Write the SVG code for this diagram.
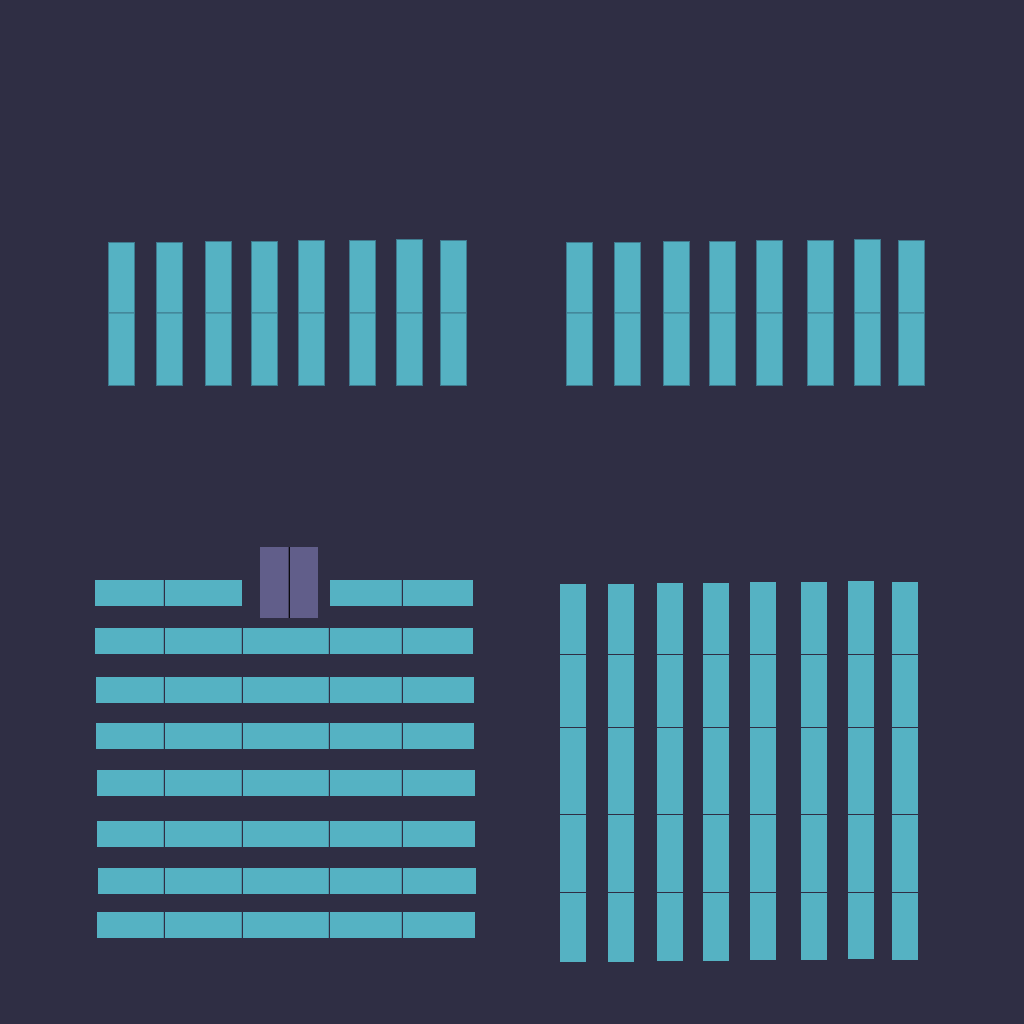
<svg xmlns="http://www.w3.org/2000/svg" width="1024" height="1024" viewBox="0 0 1024 1024">
<style>
.bg{fill:#2f2e44}
.b{fill:#55b2c3;stroke:#3f7a8e;stroke-width:1}
.c{fill:#55b2c3}
.d{stroke:#2f2e44;stroke-width:1.2}
.p{fill:#615e8a}
.pd{stroke:#000000;stroke-width:1.2}
</style>
<rect class="bg" x="0" y="0" width="1024" height="1024"/>
<g id="top-left">
<rect class="b" x="108.5" y="242.5" width="26" height="70.5"/><rect class="b" x="108.5" y="313" width="26" height="72.5"/>
<rect class="b" x="156.5" y="242.5" width="26" height="70.5"/><rect class="b" x="156.5" y="313" width="26" height="72.5"/>
<rect class="b" x="205.5" y="241.5" width="26" height="71.5"/><rect class="b" x="205.5" y="313" width="26" height="72.5"/>
<rect class="b" x="251.5" y="241.5" width="26" height="71.5"/><rect class="b" x="251.5" y="313" width="26" height="72.5"/>
<rect class="b" x="298.5" y="240.5" width="26" height="72.5"/><rect class="b" x="298.5" y="313" width="26" height="72.5"/>
<rect class="b" x="349.5" y="240.5" width="26" height="72.5"/><rect class="b" x="349.5" y="313" width="26" height="72.5"/>
<rect class="b" x="396.5" y="239.5" width="26" height="73.5"/><rect class="b" x="396.5" y="313" width="26" height="72.5"/>
<rect class="b" x="440.5" y="240.5" width="26" height="72.5"/><rect class="b" x="440.5" y="313" width="26" height="72.5"/>
</g>
<g id="top-right">
<rect class="b" x="566.5" y="242.5" width="26" height="70.5"/><rect class="b" x="566.5" y="313" width="26" height="72.5"/>
<rect class="b" x="614.5" y="242.5" width="26" height="70.5"/><rect class="b" x="614.5" y="313" width="26" height="72.5"/>
<rect class="b" x="663.5" y="241.5" width="26" height="71.5"/><rect class="b" x="663.5" y="313" width="26" height="72.5"/>
<rect class="b" x="709.5" y="241.5" width="26" height="71.5"/><rect class="b" x="709.5" y="313" width="26" height="72.5"/>
<rect class="b" x="756.5" y="240.5" width="26" height="72.5"/><rect class="b" x="756.5" y="313" width="26" height="72.5"/>
<rect class="b" x="807.5" y="240.5" width="26" height="72.5"/><rect class="b" x="807.5" y="313" width="26" height="72.5"/>
<rect class="b" x="854.5" y="239.5" width="26" height="73.5"/><rect class="b" x="854.5" y="313" width="26" height="72.5"/>
<rect class="b" x="898.5" y="240.5" width="26" height="72.5"/><rect class="b" x="898.5" y="313" width="26" height="72.5"/>
</g>
<g id="bottom-left">
<rect class="p" x="260" y="547" width="58" height="71"/>
<line class="pd" x1="289.3" y1="547" x2="289.3" y2="618"/>
<rect class="c" x="95" y="580" width="147" height="26"/>
<rect class="c" x="330" y="580" width="143" height="26"/>
<line class="d" x1="164.4" y1="580" x2="164.4" y2="606"/>
<line class="d" x1="402.4" y1="580" x2="402.4" y2="606"/>
<rect class="c" x="95" y="628" width="378" height="26"/>
<rect class="c" x="96" y="677" width="378" height="26"/>
<rect class="c" x="96" y="723" width="378" height="26"/>
<rect class="c" x="97" y="770" width="378" height="26"/>
<rect class="c" x="97" y="821" width="378" height="26"/>
<rect class="c" x="98" y="868" width="378" height="26"/>
<rect class="c" x="97" y="912" width="378" height="26"/>
<g class="d">
<line x1="164.4" y1="628" x2="164.4" y2="654"/><line x1="242.4" y1="628" x2="242.4" y2="654"/><line x1="329.4" y1="628" x2="329.4" y2="654"/><line x1="402.4" y1="628" x2="402.4" y2="654"/>
<line x1="164.4" y1="677" x2="164.4" y2="703"/><line x1="242.4" y1="677" x2="242.4" y2="703"/><line x1="329.4" y1="677" x2="329.4" y2="703"/><line x1="402.4" y1="677" x2="402.4" y2="703"/>
<line x1="164.4" y1="723" x2="164.4" y2="749"/><line x1="242.4" y1="723" x2="242.4" y2="749"/><line x1="329.4" y1="723" x2="329.4" y2="749"/><line x1="402.4" y1="723" x2="402.4" y2="749"/>
<line x1="164.4" y1="770" x2="164.4" y2="796"/><line x1="242.4" y1="770" x2="242.4" y2="796"/><line x1="329.4" y1="770" x2="329.4" y2="796"/><line x1="402.4" y1="770" x2="402.4" y2="796"/>
<line x1="164.4" y1="821" x2="164.4" y2="847"/><line x1="242.4" y1="821" x2="242.4" y2="847"/><line x1="329.4" y1="821" x2="329.4" y2="847"/><line x1="402.4" y1="821" x2="402.4" y2="847"/>
<line x1="164.4" y1="868" x2="164.4" y2="894"/><line x1="242.4" y1="868" x2="242.4" y2="894"/><line x1="329.4" y1="868" x2="329.4" y2="894"/><line x1="402.4" y1="868" x2="402.4" y2="894"/>
<line x1="164.4" y1="912" x2="164.4" y2="938"/><line x1="242.4" y1="912" x2="242.4" y2="938"/><line x1="329.4" y1="912" x2="329.4" y2="938"/><line x1="402.4" y1="912" x2="402.4" y2="938"/>
</g>
</g>
<g id="bottom-right">
<rect class="c" x="560" y="584" width="26" height="378"/>
<rect class="c" x="608" y="584" width="26" height="378"/>
<rect class="c" x="657" y="583" width="26" height="378"/>
<rect class="c" x="703" y="583" width="26" height="378"/>
<rect class="c" x="750" y="582" width="26" height="378"/>
<rect class="c" x="801" y="582" width="26" height="378"/>
<rect class="c" x="848" y="581" width="26" height="378"/>
<rect class="c" x="892" y="582" width="26" height="378"/>
<g class="d">
<line x1="560" y1="654.5" x2="918" y2="654.5"/>
<line x1="560" y1="727.5" x2="918" y2="727.5"/>
<line x1="560" y1="814.5" x2="918" y2="814.5"/>
<line x1="560" y1="892.5" x2="918" y2="892.5"/>
</g>
</g>
</svg>
